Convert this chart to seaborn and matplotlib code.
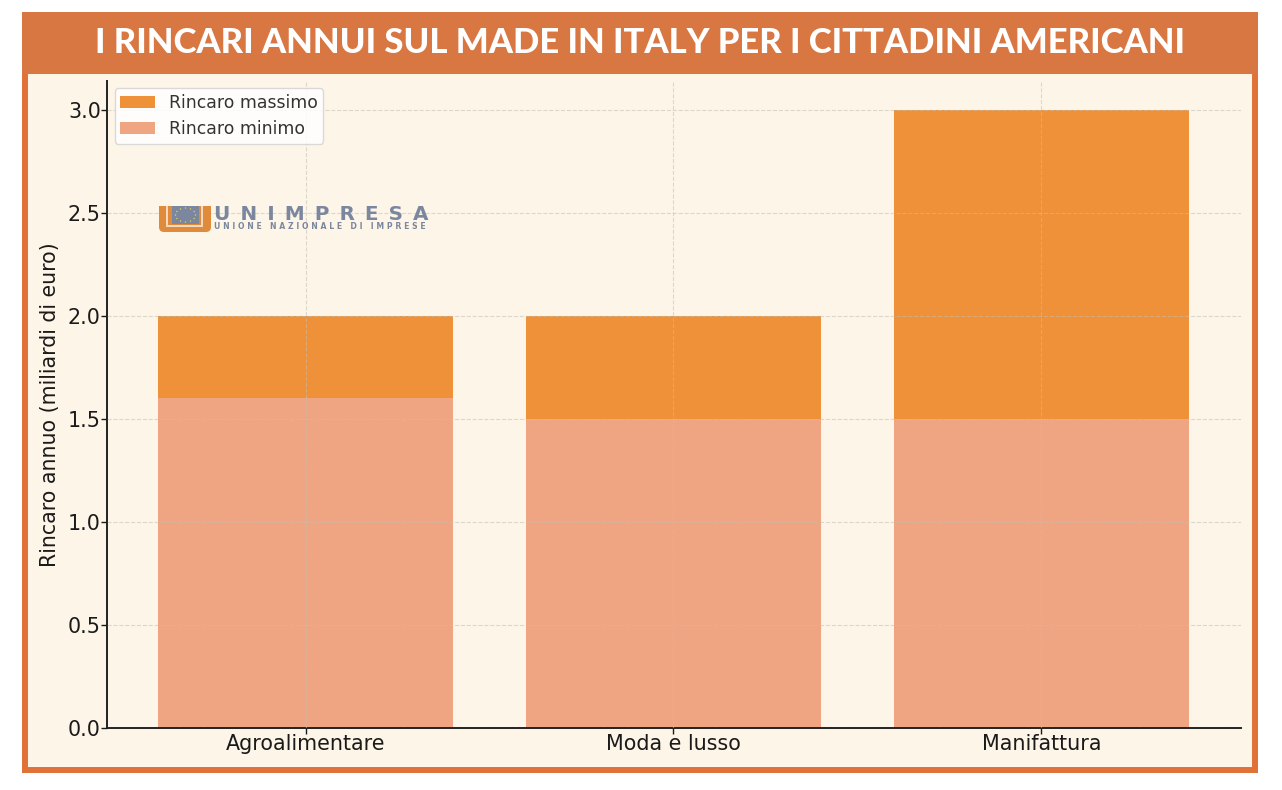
import matplotlib
matplotlib.use("Agg")
import matplotlib.pyplot as plt
from matplotlib.patches import Rectangle, FancyBboxPatch, Circle
import numpy as np
import pandas as pd
import seaborn as sns

categories = ["Agroalimentare", "Moda e lusso", "Manifattura"]
rincaro_massimo = [2.0, 2.0, 3.0]
rincaro_minimo = [1.6, 1.5, 1.5]
yticks = [0.0, 0.5, 1.0, 1.5, 2.0, 2.5, 3.0]

W, H = 1282, 790
BG = "#fdf5e8"
BORDER = "#e07239"
HEADER = "#d97742"
LOGO_BLUE = "#7a879e"
LOGO_ORANGE = "#e08a3c"


def px(x, y, w, h):
    # pixel box of the reference (top left origin) to figure fractions
    return [x / W, 1 - (y + h) / H, w / W, h / H]


def box(x, y, w, h, color, z):
    l, b, bw, bh = px(x, y, w, h)
    fig.add_artist(Rectangle((l, b), bw, bh, transform=fig.transFigure,
                             facecolor=color, edgecolor="none", zorder=z))


sns.set_theme(style="ticks")
plt.rcParams["font.family"] = ["DejaVu Sans"]

fig = plt.figure(figsize=(W / 100, H / 100), dpi=100, facecolor="white")

# outer frame and title band
fig.add_artist(Rectangle((25 / W, 1 - 770 / H), 1230 / W, 755 / H, transform=fig.transFigure,
                         facecolor=BG, edgecolor=BORDER, linewidth=4.3, zorder=0))
box(22, 12, 1236, 62, HEADER, 1)
fig.text(640 / W, 1 - 43 / H, "I RINCARI ANNUI SUL MADE IN ITALY PER I CITTADINI AMERICANI",
         ha="center", va="center", color="white", fontsize=24.9, fontweight="black",
         family="Lato", zorder=2)

ax = fig.add_axes(px(107, 81, 1134, 647))
ax.patch.set_alpha(0)

df = pd.DataFrame({"categoria": categories, "massimo": rincaro_massimo, "minimo": rincaro_minimo})
sns.barplot(data=df, x="categoria", y="massimo", color="#ef9138", saturation=1, linewidth=0,
            width=0.8, label="Rincaro massimo", ax=ax, zorder=2)
sns.barplot(data=df, x="categoria", y="minimo", color="#f0a582", saturation=1, linewidth=0,
            width=0.8, label="Rincaro minimo", ax=ax, zorder=2.5)

ax.set_xlim(-0.5395, 2.5425)
ax.set_ylim(0, 3.14)
ax.set_yticks(yticks)
ax.set_xlabel("")
ax.set_ylabel("Rincaro annuo (miliardi di euro)", fontsize=14.8, color="#1a1a1a", labelpad=5.5)
ax.tick_params(axis="both", labelsize=14.9, colors="#1a1a1a", length=4.3, width=1, pad=0.2)
ax.tick_params(axis="x", pad=0.2)
ax.grid(True, linestyle="--", linewidth=0.8, color="#c4c0b4", alpha=0.55, zorder=3)
ax.set_axisbelow(False)
sns.despine(ax=ax)
for s in ["left", "bottom"]:
    ax.spines[s].set_linewidth(1.4)
    ax.spines[s].set_color("#222222")

leg = ax.legend(loc="upper left", fontsize=12.4, frameon=True, framealpha=0.85, facecolor="white",
                edgecolor="#d4d4d4", bbox_to_anchor=(0.007, 0.989), borderaxespad=0,
                labelspacing=0.5, borderpad=0.32)
for t in leg.get_texts():
    t.set_color("#333333")

# logo
fig.add_artist(FancyBboxPatch((160, 790 - 231), 50, 19, transform=None,
                              boxstyle="round,pad=1,rounding_size=5", facecolor=LOGO_ORANGE,
                              edgecolor="none", zorder=5))
box(159, 206, 52, 12, LOGO_ORANGE, 5)
box(166, 206, 37, 21, "#f3d9bd", 5.2)
box(168, 206, 33, 19, LOGO_ORANGE, 5.3)
box(172, 206, 27, 18, LOGO_BLUE, 5.4)
for a in np.linspace(0, 2 * np.pi, 12, endpoint=False):
    fig.add_artist(Circle((185.5 + 10 * np.cos(a), 790 - 215 + 7 * np.sin(a)), 0.7, transform=None,
                          facecolor="#e8d44a", edgecolor="none", zorder=5.5))
fig.text(214 / W, 1 - 214 / H, "U\u2002N\u2002I\u2002M\u2002P\u2002R\u2002E\u2002S\u2002A",
         ha="left", va="center", fontsize=14.4, color=LOGO_BLUE, fontweight="bold", zorder=6)
fig.text(214 / W, 1 - 226.5 / H, "U N I O N E   N A Z I O N A L E   D I   I M P R E S E",
         ha="left", va="center", fontsize=5.6, color=LOGO_BLUE, fontweight="bold", zorder=6)

fig.savefig("out.png", dpi=100, facecolor="white")
